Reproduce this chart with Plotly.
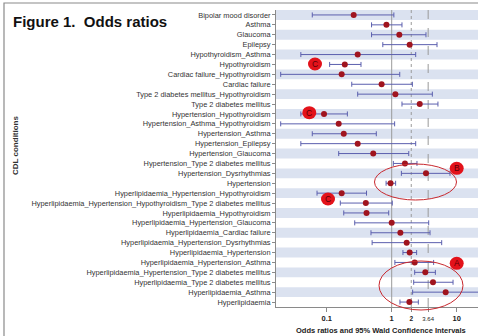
import plotly.graph_objects as go

categories = [
    "Bipolar mood disorder", "Asthma", "Glaucoma", "Epilepsy",
    "Hypothyroidism_Asthma", "Hypothyroidism", "Cardiac failure_Hypothyroidism",
    "Cardiac failure", "Type 2 diabetes mellitus_Hypothyroidism",
    "Type 2 diabetes mellitus", "Hypertension_Hypothyroidism",
    "Hypertension_Asthma_Hypothyroidism", "Hypertension_Asthma",
    "Hypertension_Epilepsy", "Hypertension_Glaucoma",
    "Hypertension_Type 2 diabetes mellitus", "Hypertension_Dysrhythmias",
    "Hypertension", "Hyperlipidaemia_Hypertension_Hypothyroidism",
    "Hyperlipidaemia_Hypertension_Hypothyroidism_Type 2 diabetes mellitus",
    "Hyperlipidaemia_Hypothyroidism", "Hyperlipidaemia_Hypertension_Glaucoma",
    "Hyperlipidaemia_Cardiac failure", "Hyperlipidaemia_Hypertension_Dysrhythmias",
    "Hyperlipidaemia_Hypertension", "Hyperlipidaemia_Hypertension_Asthma",
    "Hyperlipidaemia_Hypertension_Type 2 diabetes mellitus",
    "Hyperlipidaemia_Type 2 diabetes mellitus", "Hyperlipidaemia_Asthma",
    "Hyperlipidaemia",
]
odds_ratio = [0.26, 0.83, 1.31, 1.89, 0.30, 0.19, 0.17, 0.70, 1.14, 2.70,
              0.091, 0.153, 0.183, 0.30, 0.52, 1.60, 3.37, 0.96, 0.17, 0.40,
              0.41, 1.00, 1.36, 1.70, 1.89, 2.26, 3.29, 4.32, 6.77, 1.87]
ci_lower = [0.060, 0.49, 0.49, 0.73, 0.040, 0.111, 0.0196, 0.243, 0.30, 1.44,
            0.040, 0.0196, 0.060, 0.040, 0.153, 1.06, 1.41, 0.82, 0.071, 0.162,
            0.183, 0.27, 0.48, 0.50, 1.49, 1.12, 2.26, 2.18, 2.10, 1.34]
ci_upper = [1.08, 1.44, 3.37, 4.98, 2.34, 0.337, 1.33, 2.08, 4.22, 5.15,
            0.208, 1.11, 0.58, 2.34, 1.83, 2.45, 7.89, 1.15, 0.41, 1.02,
            0.90, 3.71, 3.89, 5.88, 2.42, 4.42, 4.70, 8.79, 30.0, 2.57]
tick_vals = [0.1, 1, 2, 3.64, 10]
tick_text = ["<b>0.1</b>", "<b>1</b>", "<span style='font-size:6.5px'><b>2</b></span>",
             "<span style='font-size:6px'>3.64</span>", "<b>10</b>"]
ref_lines = [(1, "solid"), (2, "dot"), (3.64, "dash")]

rows = list(range(1, len(categories) + 1))
W, H = 478, 336
L, R, T, B = 276, 0, 10, 29
pw, ph = W - L - R, H - T - B

def px(x):
    return (x - L) / pw

def py(y):
    return (H - B - y) / ph

fig = go.Figure()

for xv, dash in ref_lines:
    fig.add_trace(go.Scatter(x=[xv, xv], y=[0.5, 30.5], mode="lines",
                             line=dict(color="#9a9a9a", width=1, dash=dash),
                             hoverinfo="skip", showlegend=False))

fig.add_trace(go.Scatter(
    x=odds_ratio, y=rows, mode="markers",
    marker=dict(color="#a0141e", size=6),
    error_x=dict(type="data", symmetric=False,
                 array=[u - o for u, o in zip(ci_upper, odds_ratio)],
                 arrayminus=[o - l for o, l in zip(odds_ratio, ci_lower)],
                 color="#5b5fae", thickness=1, width=2.5),
    showlegend=False))

shapes = []
for r in rows:
    if r % 2 == 1:
        shapes.append(dict(type="rect", xref="paper", yref="y", x0=0, x1=1,
                           y0=r - 0.5, y1=r + 0.5, fillcolor="#dbe2f0",
                           line=dict(width=0), layer="below"))

# figure frame
shapes.append(dict(type="rect", xref="paper", yref="paper",
                   x0=px(4), x1=px(490), y0=py(3), y1=py(345),
                   line=dict(color="#8a8a8a", width=1.2), layer="below"))

# ellipses
for cx, cy, rx, ry in [(415.5, 182, 41, 18), (421, 285.5, 42, 24.5)]:
    shapes.append(dict(type="circle", xref="paper", yref="paper",
                       x0=px(cx - rx), x1=px(cx + rx), y0=py(cy + ry), y1=py(cy - ry),
                       line=dict(color="#c8282e", width=1)))

annotations = []
for cx, cy, letter in [(315, 64, "C"), (309.3, 112.7, "C"), (328, 199, "C"),
                       (456.7, 168.3, "B"), (456.7, 263.3, "A")]:
    shapes.append(dict(type="circle", xref="paper", yref="paper",
                       x0=px(cx - 7), x1=px(cx + 7), y0=py(cy + 6.5), y1=py(cy - 6.5),
                       fillcolor="#e3121a", line=dict(width=0)))
    annotations.append(dict(x=px(cx), y=py(cy), xref="paper", yref="paper",
                            xanchor="center", yanchor="middle",
                            text=letter, showarrow=False,
                            font=dict(size=8.5, color="#5a0006", family="Liberation Sans")))

annotations.append(dict(x=px(15), y=py(145), xref="paper", yref="paper",
                        xanchor="center", yanchor="middle",
                        text="<b>CDL conditions</b>", textangle=-90, showarrow=False,
                        font=dict(size=8, color="#333333")))
annotations.append(dict(x=px(381), y=py(330), xref="paper", yref="paper",
                        xanchor="center", yanchor="middle",
                        text="<b>Odds ratios and 95% Wald Confidence Intervals</b>",
                        showarrow=False, font=dict(size=7.5, color="#222222")))
annotations.append(dict(x=px(11), y=py(21), xref="paper", yref="paper",
                        xanchor="left", yanchor="middle",
                        text="<b>Figure 1.\u00a0\u00a0Odds ratios</b>", showarrow=False,
                        font=dict(size=15, color="#111111")))

fig.update_layout(
    width=W, height=H, margin=dict(l=L, r=R, t=T, b=B, pad=0),
    paper_bgcolor="white", plot_bgcolor="white",
    font=dict(family="Liberation Sans, Arial, sans-serif", size=7, color="#333333"),
    shapes=shapes, annotations=annotations, showlegend=False,
    xaxis=dict(type="log", range=[-1.78, 1.328], tickvals=tick_vals, ticktext=tick_text,
               showgrid=False, zeroline=False, showline=True, linecolor="#8a8a8a",
               ticks="outside", ticklen=4, tickcolor="#8a8a8a",
               tickfont=dict(size=7.5, color="#222222")),
    yaxis=dict(range=[30.5, 0.5], tickvals=rows, ticktext=categories,
               showgrid=False, zeroline=False, showline=True, linecolor="#8a8a8a",
               ticks="outside", ticklen=3, tickcolor="#8a8a8a",
               tickfont=dict(size=7.4, color="#333333")),
)

fig.write_html("out.html", config={"displayModeBar": False},
               post_script="document.body.style.margin='0px';")
